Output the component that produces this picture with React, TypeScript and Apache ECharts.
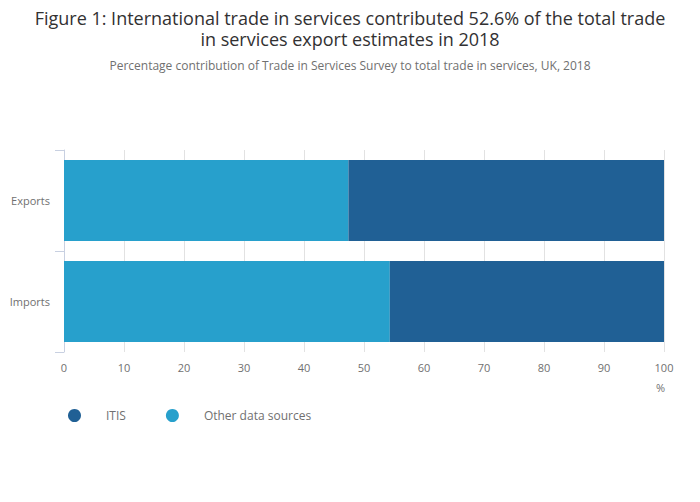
import React, { useEffect, useRef } from "react";
import * as echarts from "echarts";

const categories = ["Exports", "Imports"];
const otherSources = [47.4, 54.3];
const itis = [52.6, 45.7];
const xTicks = { min: 0, max: 100, interval: 10 };
const titleLines = [
  "Figure 1: International trade in services contributed 52.6% of the total trade",
  "in services export estimates in 2018",
];
const subtitle = "Percentage contribution of Trade in Services Survey to total trade in services, UK, 2018";

const FONT = "'Open Sans', 'Noto Sans', sans-serif";

export default function App() {
  const ref = useRef<HTMLDivElement>(null);
  useEffect(() => {
    if (!ref.current) return;
    const chart = echarts.init(ref.current, undefined, { renderer: "svg" });
    chart.setOption({
      animation: false,
      textStyle: { fontFamily: FONT },
      legend: {
        data: ["ITIS", "Other data sources"],
        left: 63,
        top: 404,
        icon: "circle",
        itemWidth: 13,
        itemHeight: 13,
        itemGap: 40,
        textStyle: { fontFamily: FONT, fontSize: 12, color: "#707070", padding: [0, 0, 0, 20] },
      },
      grid: { left: 64, right: 36, top: 150, bottom: 150, containLabel: false },
      xAxis: {
        type: "value",
        min: xTicks.min,
        max: xTicks.max,
        interval: xTicks.interval,
        axisLine: { show: false },
        axisTick: { show: false },
        axisLabel: { color: "#707070", fontSize: 11, margin: 10, fontFamily: FONT },
        splitLine: { show: true, lineStyle: { color: "#e2e2e2", width: 1 } },
      },
      yAxis: {
        type: "category",
        data: categories,
        inverse: true,
        axisLine: { show: true, lineStyle: { color: "#c8d0e1", width: 1 } },
        axisTick: { show: true, length: 9, lineStyle: { color: "#c8d0e1" } },
        axisLabel: { color: "#707070", fontSize: 11, margin: 14, fontFamily: FONT },
        splitLine: { show: false },
      },
      graphic: [
        {
          type: "text",
          x: 350,
          y: 18,
          style: { text: titleLines[0], fill: "#323132", font: `18px ${FONT}`, textAlign: "center", textVerticalAlign: "middle" },
        },
        {
          type: "text",
          x: 350,
          y: 39,
          style: { text: titleLines[1], fill: "#323132", font: `18px ${FONT}`, textAlign: "center", textVerticalAlign: "middle" },
        },
        {
          type: "text",
          x: 350,
          y: 65,
          style: { text: subtitle, fill: "#707070", font: `12px ${FONT}`, textAlign: "center", textVerticalAlign: "middle" },
        },
        {
          type: "text",
          right: 35,
          top: 382,
          style: { text: "%", fill: "#707070", font: `11px ${FONT}`, textAlign: "right" },
        },
      ],
      series: [
        {
          name: "Other data sources",
          type: "bar",
          stack: "total",
          data: otherSources,
          barCategoryGap: "20%",
          itemStyle: { color: "#27a0cc" },
        },
        {
          name: "ITIS",
          type: "bar",
          stack: "total",
          data: itis,
          barCategoryGap: "20%",
          itemStyle: { color: "#206095" },
        },
      ],
    });
    return () => chart.dispose();
  }, []);
  return (
    <div
      ref={ref}
      style={{ position: "absolute", left: 0, top: 0, width: 700, height: 502 }}
    />
  );
}
